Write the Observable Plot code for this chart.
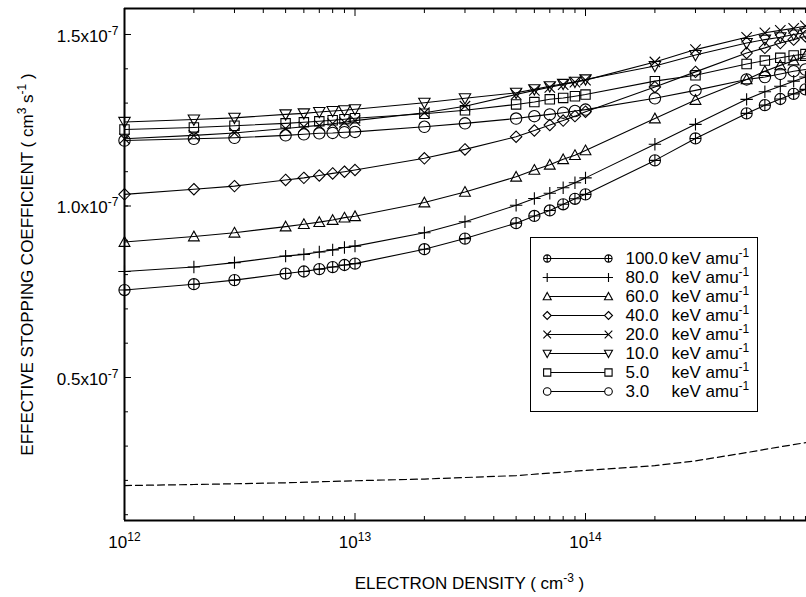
<!DOCTYPE html>
<html><head><meta charset="utf-8">
<script src="https://cdn.jsdelivr.net/npm/d3@7"></script>
<script src="https://cdn.jsdelivr.net/npm/@observablehq/plot@0.6"></script>
<style>
html,body{margin:0;padding:0;background:#fff;overflow:hidden;}
#wrap{position:relative;width:806px;height:597px;}
#legend{position:absolute;left:530px;top:237px;width:228px;height:175px;border:1px solid #000;box-sizing:border-box;background:#fff;}
#legend svg,#wrap>svg{display:block;}
</style></head><body><div id="wrap"><div id="legend"></div></div>
<script>
// Electron density (cm^-3)
const density = [1e12,2e12,3e12,5e12,6e12,7e12,8e12,9e12,1e13,2e13,3e13,5e13,6e13,7e13,8e13,9e13,1e14,2e14,3e14,5e14,6e14,7e14,8e14,9e14];
// Effective stopping coefficient, units of 1e-7 cm^3 s^-1
const s100 = [0.755,0.772,0.784,0.803,0.809,0.816,0.822,0.828,0.832,0.874,0.905,0.950,0.971,0.987,1.005,1.021,1.034,1.133,1.197,1.270,1.294,1.312,1.327,1.340];
const s80  = [0.809,0.822,0.835,0.854,0.859,0.866,0.872,0.879,0.883,0.922,0.954,1.002,1.022,1.037,1.053,1.068,1.082,1.180,1.238,1.311,1.333,1.349,1.364,1.376];
const s60  = [0.895,0.911,0.922,0.940,0.947,0.953,0.959,0.966,0.970,1.010,1.041,1.085,1.105,1.120,1.136,1.148,1.162,1.255,1.309,1.369,1.393,1.410,1.424,1.437];
const s40  = [1.034,1.049,1.058,1.076,1.082,1.089,1.095,1.100,1.105,1.139,1.165,1.202,1.220,1.236,1.249,1.262,1.275,1.347,1.391,1.446,1.461,1.475,1.485,1.495];
const s20  = [1.196,1.206,1.213,1.226,1.231,1.235,1.240,1.244,1.249,1.272,1.291,1.325,1.337,1.346,1.354,1.361,1.367,1.420,1.456,1.492,1.505,1.512,1.518,1.525];
const s10  = [1.245,1.252,1.257,1.267,1.270,1.274,1.277,1.279,1.282,1.301,1.314,1.330,1.340,1.349,1.356,1.362,1.369,1.408,1.440,1.475,1.485,1.492,1.500,1.505];
const s5   = [1.223,1.229,1.234,1.241,1.244,1.247,1.250,1.253,1.256,1.269,1.279,1.296,1.303,1.311,1.315,1.320,1.325,1.364,1.381,1.414,1.424,1.432,1.439,1.443];
const s3   = [1.191,1.196,1.199,1.206,1.209,1.212,1.213,1.215,1.216,1.231,1.241,1.255,1.262,1.267,1.272,1.277,1.281,1.314,1.337,1.369,1.376,1.385,1.393,1.398];
// dashed reference curve
const dashDensity = [1e12,2e12,5e12,1e13,2e13,5e13,1e14,2e14,3e14,5e14,7e14,9e14,1e15];
const dashValues  = [0.185,0.188,0.193,0.199,0.204,0.214,0.229,0.243,0.257,0.281,0.298,0.310,0.316];

const energies = ["100.0","80.0","60.0","40.0","20.0","10.0","5.0","3.0"];
const unitLabel = "keV amu^{-1}";
const xTitle = "ELECTRON DENSITY ( cm^{-3} )";
const yTitle = "EFFECTIVE STOPPING COEFFICIENT ( cm^{3} s^{-1} )";
const yTickUnit = "x10^{-7}";
const xMajorTicks = [1e12,1e13,1e14];
const xMinorTicks = [2e12,3e12,4e12,5e12,6e12,7e12,8e12,9e12,2e13,3e13,4e13,5e13,6e13,7e13,8e13,9e13,2e14,3e14,4e14,5e14,6e14,7e14,8e14,9e14];
const yMajorTicks = [0.5,1.0,1.5];
const yMinorTicks = [0.1,0.2,0.3,0.4,0.5,0.6,0.7,0.8,0.9,1.0,1.1,1.2,1.3,1.4,1.5];
const xDomain = [1e12, 9.094e14];
const yDomain = [0.0831, 1.5758];

function sym(fn){ return {draw(c, size){ const r = Math.sqrt(size/Math.PI); fn(c, r); }}; }
const SYM = {
  circlePlus: sym((c,r)=>{c.moveTo(r,0); c.arc(0,0,r,0,2*Math.PI); c.moveTo(-r,0); c.lineTo(r,0); c.moveTo(0,-r); c.lineTo(0,r);}),
  plus: sym((c,r)=>{c.moveTo(-r,0); c.lineTo(r,0); c.moveTo(0,-r); c.lineTo(0,r);}),
  triUp: sym((c,r)=>{c.moveTo(0,-r); c.lineTo(r,r*0.8); c.lineTo(-r,r*0.8); c.closePath();}),
  diamond: sym((c,r)=>{c.moveTo(0,-r); c.lineTo(r,0); c.lineTo(0,r); c.lineTo(-r,0); c.closePath();}),
  times: sym((c,r)=>{c.moveTo(-r,-r); c.lineTo(r,r); c.moveTo(r,-r); c.lineTo(-r,r);}),
  triDown: sym((c,r)=>{c.moveTo(0,r); c.lineTo(r,-r*0.8); c.lineTo(-r,-r*0.8); c.closePath();}),
  square: sym((c,r)=>{c.rect(-r,-r,2*r,2*r);}),
  circle: sym((c,r)=>{c.moveTo(r,0); c.arc(0,0,r,0,2*Math.PI);})
};
const series = [
  {label:"100.0", values:s100, symbol:SYM.circlePlus, r:5.6, lr:3.6},
  {label:"80.0",  values:s80,  symbol:SYM.plus,       r:6.2, lr:4.5},
  {label:"60.0",  values:s60,  symbol:SYM.triUp,      r:5.4, lr:4},
  {label:"40.0",  values:s40,  symbol:SYM.diamond,    r:5.7, lr:4},
  {label:"20.0",  values:s20,  symbol:SYM.times,      r:5.2, lr:3.8},
  {label:"10.0",  values:s10,  symbol:SYM.triDown,    r:5.7, lr:4},
  {label:"5.0",   values:s5,   symbol:SYM.square,     r:4.7, lr:3.6},
  {label:"3.0",   values:s3,   symbol:SYM.circle,     r:5.7, lr:3.8}
];

const font = "'Liberation Sans', Arial, Helvetica, sans-serif";
const marks = [];
const dashData = dashDensity.map((x,i)=>({x, y: dashValues[i]}));
marks.push(Plot.line(dashData, {x:"x", y:"y", stroke:"black", strokeWidth:1.2, strokeDasharray:"7,4", clip:true}));
for (const s of series) {
  const data = density.map((x,i)=>({x, y: s.values[i]}));
  marks.push(Plot.line(data, {x:"x", y:"y", stroke:"black", strokeWidth:1.1}));
  marks.push(Plot.dot(data, {x:"x", y:"y", symbol:s.symbol, r:s.r, stroke:"black", strokeWidth:1.1, fill:"none"}));
}
marks.push(
  Plot.ruleX([xDomain[0]], {stroke:"black", strokeWidth:2}),
  Plot.ruleY([yDomain[0], yDomain[1]], {stroke:"black", strokeWidth:2}),
  Plot.axisX(xMajorTicks, {anchor:"bottom", tickSize:-7, fill:"none", label:null}),
  Plot.axisX(xMinorTicks, {anchor:"bottom", tickSize:-4, fill:"none", label:null}),
  Plot.axisX(xMajorTicks, {anchor:"bottom", tickSize:0, tickPadding:15, tickFormat:d=>"10^{"+Math.round(Math.log10(d))+"}", label:null}),
  Plot.axisX(xMajorTicks, {anchor:"top", tickSize:-7, fill:"none", label:null}),
  Plot.axisX(xMinorTicks, {anchor:"top", tickSize:-4, fill:"none", label:null}),
  Plot.axisY(yMajorTicks, {anchor:"left", tickSize:-7, fill:"none", label:null}),
  Plot.axisY(yMinorTicks, {anchor:"left", tickSize:-4, fill:"none", label:null}),
  Plot.axisY(yMajorTicks, {anchor:"left", tickSize:0, tickPadding:6, dy:2, tickFormat:d=>d.toFixed(1)+yTickUnit, label:null}),
  Plot.text([xTitle], {frameAnchor:"bottom", text:d=>d, textAnchor:"middle", lineAnchor:"middle", dx:4, dy:63.5, fill:"black"}),
  Plot.text([yTitle], {frameAnchor:"left", text:d=>d, textAnchor:"middle", lineAnchor:"middle", rotate:-90, dx:-97, fill:"black"})
);

const chart = Plot.plot({
  width:806, height:597,
  marginLeft:124, marginRight:0, marginTop:8, marginBottom:77,
  x:{type:"log", domain:xDomain},
  y:{domain:yDomain},
  style:{fontFamily:font, fontSize:"17px", background:"white", color:"black"},
  marks
});

const legend = Plot.plot({
  width:226, height:173,
  marginLeft:15.7, marginRight:149, marginTop:18.5, marginBottom:19.5,
  x:{domain:[0,1], axis:null},
  y:{type:"point", domain:energies, padding:0, axis:null},
  style:{fontFamily:font, fontSize:"17px", background:"white", color:"black"},
  marks:[
    Plot.link(energies, {x1:0, x2:1, y1:d=>d, y2:d=>d, stroke:"black", strokeWidth:1.1}),
    ...series.flatMap(s => [
      Plot.dot([s.label], {x:0, y:d=>d, symbol:s.symbol, r:s.lr, stroke:"black", strokeWidth:1.1, fill:"white"}),
      Plot.dot([s.label], {x:1, y:d=>d, symbol:s.symbol, r:s.lr, stroke:"black", strokeWidth:1.1, fill:"white"})
    ]),
    Plot.text(energies, {x:1, y:d=>d, text:d=>d, textAnchor:"start", dx:17, fill:"black"}),
    Plot.text(energies, {x:1, y:d=>d, text:()=>unitLabel, textAnchor:"start", dx:63, fill:"black"})
  ]
});

function supify(root){
  const NS = "http://www.w3.org/2000/svg";
  const supSize = 12, raise = 7;
  root.querySelectorAll("text").forEach(t => {
    const s = t.textContent;
    if (!s.includes("^{")) return;
    const parts = s.split(/(\^\{[^}]*\})/);
    while (t.firstChild) t.removeChild(t.firstChild);
    let raised = false;
    for (const p of parts) {
      if (!p) continue;
      const ts = document.createElementNS(NS, "tspan");
      if (p.startsWith("^{")) {
        ts.textContent = p.slice(2, -1);
        ts.setAttribute("font-size", supSize);
        ts.setAttribute("dy", -raise);
        raised = true;
      } else {
        ts.textContent = p;
        if (raised) { ts.setAttribute("dy", raise); raised = false; }
      }
      t.appendChild(ts);
    }
  });
}
supify(chart);
supify(legend);
const wrap = document.getElementById("wrap");
wrap.insertBefore(chart, wrap.firstChild);
document.getElementById("legend").appendChild(legend);
</script></body></html>
